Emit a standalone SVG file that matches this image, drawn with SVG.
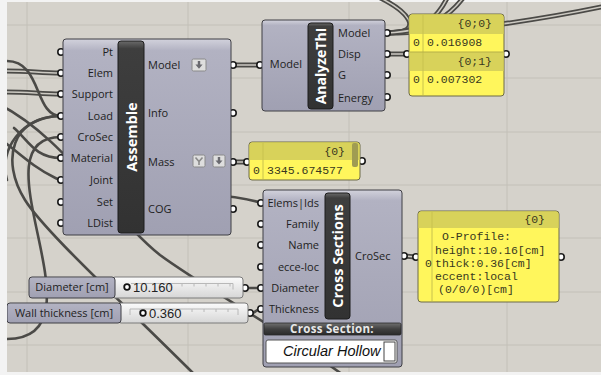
<svg xmlns="http://www.w3.org/2000/svg" width="601" height="375" viewBox="0 0 601 375">
  <style>
    .grid { stroke:#c3c0b8; stroke-width:1; }
    .w { fill:none; stroke:#4b4a47; stroke-width:2.6; stroke-linecap:round; }
    .w2o { fill:none; stroke:#4b4a47; stroke-width:5; }
    .w2i { fill:none; stroke:#cdcac3; stroke-width:1.5; }
    .port { fill:#ffffff; stroke:#1a1a1a; stroke-width:1.6; }
    .body { fill:url(#gBody); stroke:#3f3f45; stroke-width:1; }
    .bar { fill:url(#gBar); stroke:#1c1c1c; stroke-width:1; }
    .lbl { font-family:"Open Sans","Noto Sans",sans-serif; font-size:11px; fill:#1e1e22; }
    .end { text-anchor:end; }
    .mid { text-anchor:middle; }
    .title { font-family:"Open Sans","Noto Sans",sans-serif; font-size:14.5px; font-weight:bold; fill:#ffffff; text-anchor:middle; }
    .pnl { fill:#fff65c; stroke:#6d6a48; stroke-width:1; }
    .phd { fill:#d8d25a; }
    .pdiv { stroke:#c8c24e; stroke-width:1; }
    .mono { font-family:"Liberation Mono","DejaVu Sans Mono",monospace; font-size:11.5px; fill:#38381e; }
    .icon { fill:#dedede; stroke:#8a8a8a; stroke-width:1; }
    .arrow { fill:#6a6a70; }
    .sval { fill:url(#gSlider); stroke:#7a7a7a; stroke-width:1; }
    .rail { fill:none; stroke:#b8b8b8; stroke-width:1; }
    .knob { fill:#ffffff; stroke:#111111; stroke-width:1.8; }
    .num { font-family:"Liberation Sans",Arial,sans-serif; font-size:13px; fill:#222222; }
  </style>
  <defs>
    <linearGradient id="gBody" x1="0" y1="0" x2="0" y2="1">
      <stop offset="0" stop-color="#d2d2dc"/>
      <stop offset="0.06" stop-color="#b2b2c2"/>
      <stop offset="1" stop-color="#a0a0b2"/>
    </linearGradient>
    <linearGradient id="gBar" x1="0" y1="0" x2="0" y2="1">
      <stop offset="0" stop-color="#6a6a6a"/>
      <stop offset="0.04" stop-color="#3e3e3e"/>
      <stop offset="1" stop-color="#323232"/>
    </linearGradient>
    <linearGradient id="gSlider" x1="0" y1="0" x2="0" y2="1">
      <stop offset="0" stop-color="#fbfbfb"/>
      <stop offset="1" stop-color="#d6d6d6"/>
    </linearGradient>
    <linearGradient id="gHead" x1="0" y1="0" x2="0" y2="1">
      <stop offset="0" stop-color="#707070"/>
      <stop offset="0.5" stop-color="#404040"/>
      <stop offset="1" stop-color="#2a2a2a"/>
    </linearGradient>
  </defs>

  <!-- canvas and grid -->
  <rect x="0" y="0" width="601" height="375" fill="#f3f3f3"/>
  <rect x="7" y="2" width="594" height="370" fill="#d5d2cb"/>
  <g id="grid">
    <line class="grid" x1="7" y1="25" x2="601" y2="25"/>
    <line class="grid" x1="7" y1="78" x2="601" y2="78"/>
    <line class="grid" x1="7" y1="132" x2="601" y2="132"/>
    <line class="grid" x1="7" y1="185" x2="601" y2="185"/>
    <line class="grid" x1="7" y1="238" x2="601" y2="238"/>
    <line class="grid" x1="7" y1="292" x2="601" y2="292"/>
    <line class="grid" x1="7" y1="345" x2="601" y2="345"/>
    <line class="grid" x1="27" y1="2" x2="27" y2="372"/>
    <line class="grid" x1="188" y1="2" x2="188" y2="372"/>
    <line class="grid" x1="349" y1="2" x2="349" y2="372"/>
    <line class="grid" x1="507" y1="2" x2="507" y2="372"/>
  </g>

  <!-- connectors -->
  <g id="wires">
    <!-- list wires (double) -->
    <path class="w2o" d="M7,71 C30,71 40,73 61,73"/><path class="w2i" d="M7,71 C30,71 40,73 61,73"/>
    <path class="w2o" d="M7,92 C30,92 40,94 61,94"/><path class="w2i" d="M7,92 C30,92 40,94 61,94"/>
    <path class="w2o" d="M233,65 L260,65"/><path class="w2i" d="M233,65 L260,65"/>
    <path class="w2o" d="M233,162 L249,162"/><path class="w2i" d="M233,162 L249,162"/>
    <path class="w2o" d="M387,54 L407,54"/><path class="w2i" d="M387,54 L407,54"/>
    <path class="w2o" d="M404,256 L416,257"/><path class="w2i" d="M404,256 L416,257"/>
    <path class="w2o" d="M387,33 C440,33 520,24 606,6"/><path class="w2i" d="M387,33 C440,33 520,24 606,6"/>
    <path class="w2o" d="M387,33 C428,33 408,10 372,-6"/><path class="w2i" d="M387,33 C428,33 408,10 372,-6"/>
    <path class="w2o" d="M387,33 C428,31 440,14 449,-6"/><path class="w2i" d="M387,33 C428,31 440,14 449,-6"/>
    <path class="w2o" d="M387,33 C432,31 452,14 466,-6"/><path class="w2i" d="M387,33 C432,31 452,14 466,-6"/>
    <!-- item wires -->
    <path class="w" d="M7,61 C42,61 34,116 61,116"/>
    <path class="w" d="M7,180 C-2,150 22,116 61,116"/>
    <path class="w" d="M61,116 C12,116 0,160 25,200 C45,232 120,300 205,385"/>
    <path class="w" d="M7,339 C110,339 -30,137 61,137"/>
    <path class="w" d="M61,158 C35,158 28,140 14,128"/>
    <path class="w" d="M-5,135 C30,160 50,190 120,192 C190,193 235,194 261,203"/>
    <path class="w" d="M-10,100 C60,130 110,215 160,255 C200,285 290,335 350,380"/>
    <path class="w" d="M246,288 L261,288"/>
    <path class="w" d="M251,313 C257,313 255,309 261,309"/>
  </g>

  <!-- Assemble -->
  <g id="assemble">
    <circle class="port" cx="61" cy="52" r="3.2"/>
    <circle class="port" cx="61" cy="73" r="3.2"/>
    <circle class="port" cx="61" cy="94" r="3.2"/>
    <circle class="port" cx="61" cy="116" r="3.2"/>
    <circle class="port" cx="61" cy="137" r="3.2"/>
    <circle class="port" cx="61" cy="158" r="3.2"/>
    <circle class="port" cx="61" cy="180" r="3.2"/>
    <circle class="port" cx="61" cy="202" r="3.2"/>
    <circle class="port" cx="61" cy="223" r="3.2"/>
    <circle class="port" cx="233" cy="65" r="3.2"/>
    <circle class="port" cx="233" cy="113" r="3.2"/>
    <circle class="port" cx="233" cy="162" r="3.2"/>
    <circle class="port" cx="233" cy="209" r="3.2"/>
    <rect class="body" x="63" y="39" width="168" height="196" rx="3"/>
    <rect class="bar" x="118" y="41" width="26" height="192" rx="3"/>
    <text class="title" transform="translate(136.5,137) rotate(-90)">Assemble</text>
    <text class="lbl end" x="113" y="56">Pt</text>
    <text class="lbl end" x="113" y="77">Elem</text>
    <text class="lbl end" x="113" y="98">Support</text>
    <text class="lbl end" x="113" y="120">Load</text>
    <text class="lbl end" x="113" y="141">CroSec</text>
    <text class="lbl end" x="113" y="162">Material</text>
    <text class="lbl end" x="113" y="184">Joint</text>
    <text class="lbl end" x="113" y="206">Set</text>
    <text class="lbl end" x="113" y="227">LDist</text>
    <text class="lbl" x="148" y="69">Model</text>
    <text class="lbl" x="148" y="117">Info</text>
    <text class="lbl" x="148" y="166">Mass</text>
    <text class="lbl" x="148" y="213">COG</text>
    <rect class="icon" x="192" y="59" width="14" height="12" rx="1.5"/>
    <path class="arrow" d="M197.8,61 h2.4 v3.6 h2.4 l-3.6,4.2 l-3.6,-4.2 h2.4 z"/>
    <rect class="icon" x="193" y="155" width="12" height="12" rx="1.5"/>
    <path d="M195.5,157.5 L199,161.5 L202.5,157.5 M199,161.5 V165" fill="none" stroke="#8a8a8a" stroke-width="1.6"/>
    <rect class="icon" x="213" y="155" width="12" height="12" rx="1.5"/>
    <path class="arrow" d="M217.8,157 h2.4 v3.4 h2.3 l-3.5,4.2 l-3.5,-4.2 h2.3 z"/>
  </g>

  <!-- AnalyzeThI -->
  <g id="analyze">
    <circle class="port" cx="260" cy="65" r="3.2"/>
    <circle class="port" cx="387" cy="33" r="3.2"/>
    <circle class="port" cx="387" cy="54" r="3.2"/>
    <circle class="port" cx="387" cy="75" r="3.2"/>
    <circle class="port" cx="387" cy="97" r="3.2"/>
    <rect class="body" x="262" y="20" width="123" height="91" rx="3"/>
    <rect class="bar" x="308" y="23" width="25" height="86" rx="3"/>
    <text class="title" transform="translate(326,66) rotate(-90)" style="font-size:14px">AnalyzeThI</text>
    <text class="lbl end" x="302" y="68">Model</text>
    <text class="lbl" x="338" y="37">Model</text>
    <text class="lbl" x="338" y="58">Disp</text>
    <text class="lbl" x="338" y="79">G</text>
    <text class="lbl" x="338" y="102">Energy</text>
  </g>

  <!-- displacement panel -->
  <g id="panel-disp">
    <circle class="port" cx="407" cy="54" r="3.2"/>
    <circle class="port" cx="506" cy="54" r="3.2"/>
    <rect class="pnl" x="409" y="14" width="95" height="82" rx="3"/>
    <path class="phd" d="M412,14.5 H501 A2.5,2.5 0 0 1 503.5,17 V34 H409.5 V17 A2.5,2.5 0 0 1 412,14.5 z"/>
    <rect class="phd" x="409.5" y="52" width="94" height="19"/>
    <line class="pdiv" x1="423" y1="15" x2="423" y2="95"/>
    <line x1="409.5" y1="52" x2="503.5" y2="52" stroke="#b5af48" stroke-width="1"/>
    <text class="mono end" x="492" y="27">{0;0}</text>
    <text class="mono" x="413" y="46">0</text>
    <text class="mono" x="427" y="46">0.016908</text>
    <text class="mono end" x="492" y="65">{0;1}</text>
    <text class="mono" x="413" y="83">0</text>
    <text class="mono" x="427" y="83">0.007302</text>
  </g>

  <!-- mass panel -->
  <g id="panel-mass">
    <circle class="port" cx="247" cy="162" r="3.2"/>
    <circle class="port" cx="362" cy="161" r="3.2"/>
    <rect class="pnl" x="249" y="142" width="111" height="38" rx="3"/>
    <path class="phd" d="M252,142.5 H357 A2.5,2.5 0 0 1 359.5,145 V160 H249.5 V145 A2.5,2.5 0 0 1 252,142.5 z"/>
    <line class="pdiv" x1="263" y1="143" x2="263" y2="179"/>
    <rect x="352" y="143" width="6" height="24" rx="2" fill="#a09c52"/>
    <text class="mono end" x="345" y="155">{0}</text>
    <text class="mono" x="253" y="174">0</text>
    <text class="mono" x="267" y="174">3345.674577</text>
  </g>

  <!-- Cross Sections -->
  <g id="cross-sections">
    <circle class="port" cx="261" cy="203" r="3.2"/>
    <circle class="port" cx="261" cy="224" r="3.2"/>
    <circle class="port" cx="261" cy="245" r="3.2"/>
    <circle class="port" cx="261" cy="267" r="3.2"/>
    <circle class="port" cx="261" cy="288" r="3.2"/>
    <circle class="port" cx="261" cy="309" r="3.2"/>
    <circle class="port" cx="404" cy="256" r="3.2"/>
    <rect class="body" x="263" y="190" width="139" height="177" rx="3"/>
    <rect class="bar" x="325" y="193" width="25" height="126" rx="3"/>
    <text class="title" transform="translate(343,256) rotate(-90)">Cross Sections</text>
    <text class="lbl end" x="319" y="207">Elems|Ids</text>
    <text class="lbl end" x="319" y="228">Family</text>
    <text class="lbl end" x="319" y="249">Name</text>
    <text class="lbl end" x="319" y="271">ecce-loc</text>
    <text class="lbl end" x="319" y="292">Diameter</text>
    <text class="lbl end" x="319" y="313">Thickness</text>
    <text class="lbl" x="355" y="260">CroSec</text>
    <rect x="264" y="323" width="137" height="12" rx="1.5" fill="url(#gHead)" stroke="#2a2a2a" stroke-width="0.8"/>
    <text class="lbl mid" x="332" y="333" style="font-weight:bold;font-size:11.5px;fill:#e8e8e8;letter-spacing:0.3px">Cross Section:</text>
    <rect x="266" y="340" width="131" height="23" rx="2" fill="#ffffff" stroke="#555555" stroke-width="1"/>
    <text x="283" y="356" style="font-family:'Liberation Sans',Arial,sans-serif;font-style:italic;font-size:14.5px;fill:#111111">Circular Hollow</text>
    <rect x="384" y="342" width="11" height="19" fill="#ffffff" stroke="#444444" stroke-width="1"/>
  </g>

  <!-- section panel -->
  <g id="panel-section">
    <circle class="port" cx="416" cy="257" r="3.2"/>
    <circle class="port" cx="561" cy="257" r="3.2"/>
    <rect class="pnl" x="418" y="211" width="141" height="91" rx="3"/>
    <path class="phd" d="M421,211.5 H556 A2.5,2.5 0 0 1 558.5,214 V228 H418.5 V214 A2.5,2.5 0 0 1 421,211.5 z"/>
    <line class="pdiv" x1="432" y1="212" x2="432" y2="301"/>
    <text class="mono end" x="545" y="223">{0}</text>
    <text class="mono" x="425" y="267">0</text>
    <text class="mono" x="442" y="240">O-Profile:</text>
    <text class="mono" x="435" y="254">height:10.16[cm]</text>
    <text class="mono" x="435" y="267">thick:0.36[cm]</text>
    <text class="mono" x="435" y="280">eccent:local</text>
    <text class="mono" x="438" y="293">(0/0/0)[cm]</text>
  </g>

  <!-- Diameter slider -->
  <g id="slider-diameter">
    <circle class="port" cx="245" cy="288" r="3.2"/>
    <rect class="sval" x="112" y="277" width="131" height="21" rx="3"/>
    <rect class="body" x="29" y="277" width="86" height="21" rx="3"/>
    <text class="lbl mid" x="72" y="291">Diameter [cm]</text>
    <path class="rail" d="M131,283.5 H233 V289.5 M170,283.5 v3 M182,283.5 v3 M194,283.5 v3 M206,283.5 v3 M218,283.5 v3 M230,283.5 v3"/>
    <circle class="knob" cx="127" cy="287" r="2.8"/>
    <text class="num" x="133" y="292">10.160</text>
  </g>

  <!-- Wall thickness slider -->
  <g id="slider-wall">
    <circle class="port" cx="250" cy="313" r="3.2"/>
    <rect class="sval" x="118" y="303" width="130" height="20" rx="3"/>
    <rect class="body" x="7" y="303" width="114" height="20" rx="3"/>
    <text class="lbl mid" x="64" y="317">Wall thickness [cm]</text>
    <path class="rail" d="M130,315 V309 H238 V315 M140,309 v3 M180,309 v3 M192,309 v3 M204,309 v3 M216,309 v3 M228,309 v3"/>
    <circle class="knob" cx="143" cy="313" r="2.8"/>
    <text class="num" x="149" y="318">0.360</text>
  </g>

  <!-- outer frame strips -->
  <rect x="0" y="0" width="7" height="375" fill="#f3f3f3"/>
  <rect x="0" y="372" width="601" height="3" fill="#f3f3f3"/>
</svg>
